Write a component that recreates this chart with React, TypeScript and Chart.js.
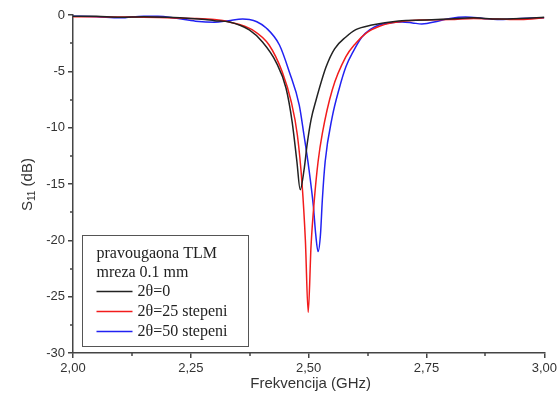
import { useEffect, useRef } from "react";
import { Chart, registerables } from "chart.js";

Chart.register(...registerables);

// Frequency (GHz) and S11 (dB) for each series
const freq0 = [2.0, 2.05, 2.1, 2.15, 2.2, 2.25, 2.28, 2.3, 2.332, 2.374, 2.402, 2.431, 2.452, 2.465, 2.475, 2.482, 2.49, 2.497, 2.505, 2.516, 2.537, 2.555, 2.579, 2.6, 2.634, 2.691, 2.75, 2.8, 2.85, 2.9, 2.95, 3.0];
const s11_0 = [-0.1, -0.12, -0.2, -0.15, -0.2, -0.3, -0.4, -0.5, -0.62, -1.33, -2.4, -4.2, -6.5, -9.5, -13, -15.5, -13.8, -11.4, -9.3, -7.5, -4.6, -3.0, -1.95, -1.3, -0.89, -0.53, -0.45, -0.35, -0.25, -0.35, -0.3, -0.2];

const freq25 = [2.0, 2.05, 2.1, 2.15, 2.2, 2.25, 2.3, 2.332, 2.381, 2.416, 2.444, 2.463, 2.476, 2.486, 2.493, 2.499, 2.505, 2.512, 2.52, 2.529, 2.55, 2.579, 2.6, 2.622, 2.65, 2.677, 2.734, 2.8, 2.85, 2.9, 2.95, 3.0];
const s11_25 = [-0.15, -0.15, -0.18, -0.2, -0.25, -0.3, -0.4, -0.62, -1.33, -2.66, -5.06, -7.7, -10.65, -15, -20, -26.4, -20.5, -16.4, -13, -10.5, -6.65, -3.7, -2.5, -1.6, -1.0, -0.7, -0.44, -0.4, -0.3, -0.35, -0.4, -0.25];

const freq50 = [2.0, 2.05, 2.1, 2.15, 2.18, 2.22, 2.26, 2.3, 2.33, 2.36, 2.374, 2.39, 2.41, 2.438, 2.459, 2.48, 2.49, 2.5, 2.51, 2.515, 2.52, 2.525, 2.529, 2.535, 2.55, 2.565, 2.579, 2.595, 2.613, 2.63, 2.649, 2.67, 2.698, 2.72, 2.74, 2.776, 2.8, 2.833, 2.87, 2.9, 2.95, 3.0];
const s11_50 = [-0.1, -0.15, -0.25, -0.1, -0.1, -0.3, -0.55, -0.65, -0.5, -0.35, -0.4, -0.6, -1.15, -2.66, -5.06, -8, -10.65, -13.5, -17, -19.5, -21, -19.5, -16.4, -13, -9.05, -6.5, -4.6, -3.2, -1.95, -1.3, -0.89, -0.7, -0.62, -0.7, -0.8, -0.53, -0.3, -0.18, -0.3, -0.4, -0.3, -0.25];

const seriesNames = ["2θ=0", "2θ=25 stepeni", "2θ=50 stepeni"];
const seriesColors = ["#222222", "#f21c1c", "#2222f2"];
const legendTitle = ["pravougaona TLM", "mreza 0.1 mm"];
const xTitle = "Frekvencija (GHz)";
const yMin = -30;
const yMax = 0;
const xMin = 2.0;
const xMax = 3.0;
const xMajor = 0.25;
const yMajor = 5;

const toPts = (xs: number[], ys: number[]) => xs.map((x, i) => ({ x, y: ys[i] }));
const isMajor = (v: number, step: number) => Math.abs(v / step - Math.round(v / step)) < 1e-6;

export default function App() {
  const ref = useRef<HTMLCanvasElement | null>(null);

  useEffect(() => {
    document.body.style.margin = "0";
    const canvas = ref.current;
    if (!canvas) return;

    const overlay = {
      id: "overlay",
      afterDraw(chart: any) {
        const ctx = chart.ctx as CanvasRenderingContext2D;
        const area = chart.chartArea;

        // minor ticks (shorter)
        ctx.save();
        ctx.strokeStyle = "#444";
        ctx.lineWidth = 1.5;
        const xs = chart.scales.x;
        const ys = chart.scales.y;
        xs.ticks.forEach((t: any) => {
          if (isMajor(t.value, xMajor)) return;
          const px = Math.round(xs.getPixelForValue(t.value));
          ctx.beginPath();
          ctx.moveTo(px, area.bottom);
          ctx.lineTo(px, area.bottom + 3);
          ctx.stroke();
        });
        ys.ticks.forEach((t: any) => {
          if (isMajor(t.value, yMajor)) return;
          const py = Math.round(ys.getPixelForValue(t.value));
          ctx.beginPath();
          ctx.moveTo(area.left, py);
          ctx.lineTo(area.left - 3, py);
          ctx.stroke();
        });
        ctx.restore();

        // y axis title with subscript
        ctx.save();
        ctx.fillStyle = "#333";
        ctx.translate(28, 211);
        ctx.rotate(-Math.PI / 2);
        ctx.textBaseline = "middle";
        ctx.textAlign = "left";
        ctx.font = '15px "Liberation Sans"';
        ctx.fillText("S", 0, 0);
        let w = ctx.measureText("S").width;
        ctx.font = '10px "Liberation Sans"';
        ctx.fillText("11", w, 4);
        w += ctx.measureText("11").width;
        ctx.font = '15px "Liberation Sans"';
        ctx.fillText(" (dB)", w, 0);
        ctx.restore();

        // x axis title
        ctx.save();
        ctx.fillStyle = "#333";
        ctx.font = '15px "Liberation Sans"';
        ctx.textAlign = "center";
        ctx.textBaseline = "middle";
        ctx.fillText(xTitle, (area.left + area.right) / 2 + 2, 384);
        ctx.restore();

        // legend box
        ctx.save();
        const bx = area.left + 9.5;
        const by = area.bottom - 117.5;
        const bw = 166;
        const bh = 111;
        ctx.fillStyle = "#fff";
        ctx.fillRect(bx, by, bw, bh);
        ctx.strokeStyle = "#555";
        ctx.lineWidth = 1;
        ctx.strokeRect(bx, by, bw, bh);
        ctx.font = '16px "Liberation Serif"';
        ctx.fillStyle = "#222";
        ctx.textBaseline = "middle";
        ctx.textAlign = "left";
        const tx = bx + 14;
        ctx.fillText(legendTitle[0], tx, by + 18);
        ctx.fillText(legendTitle[1], tx, by + 37);
        const rowsY = [by + 56, by + 76, by + 96];
        seriesNames.forEach((name, i) => {
          ctx.strokeStyle = seriesColors[i];
          ctx.lineWidth = 1.5;
          ctx.beginPath();
          ctx.moveTo(tx, rowsY[i]);
          ctx.lineTo(tx + 36, rowsY[i]);
          ctx.stroke();
          ctx.fillStyle = "#222";
          ctx.fillText(name, tx + 41, rowsY[i]);
        });
        ctx.restore();
      },
    };

    const chart = new Chart(canvas, {
      type: "line",
      data: {
        datasets: [
          { label: seriesNames[0], data: toPts(freq0, s11_0), borderColor: seriesColors[0] },
          { label: seriesNames[1], data: toPts(freq25, s11_25), borderColor: seriesColors[1] },
          { label: seriesNames[2], data: toPts(freq50, s11_50), borderColor: seriesColors[2] },
        ].map((d) => ({
          ...d,
          borderWidth: 1.5,
          pointRadius: 0,
          fill: false,
          cubicInterpolationMode: "monotone" as const,
        })),
      },
      options: {
        animation: false,
        responsive: false,
        devicePixelRatio: 1,
        layout: { padding: { top: 15, right: 14, left: 0, bottom: 0 } },
        plugins: { legend: { display: false }, tooltip: { enabled: false } },
        scales: {
          x: {
            type: "linear",
            min: xMin,
            max: xMax,
            afterFit: (s: any) => {
              s.height = 43;
            },
            ticks: {
              stepSize: 0.125,
              autoSkip: false,
              maxRotation: 0,
              padding: 3,
              color: "#333",
              font: { family: "Liberation Sans", size: 13 },
              callback: (v: any) => {
                const n = Number(v);
                return isMajor(n, xMajor) ? n.toFixed(2).replace(".", ",") : "";
              },
            },
            grid: {
              drawOnChartArea: false,
              drawTicks: true,
              tickLength: 5,
              color: "#444",
              lineWidth: 1.5,
              tickColor: (c: any) => (c.tick && isMajor(c.tick.value, xMajor) ? "#444" : "rgba(0,0,0,0)"),
            },
            border: { display: true, color: "#444", width: 1.5 },
          },
          y: {
            type: "linear",
            min: yMin,
            max: yMax,
            afterFit: (s: any) => {
              s.width = 73;
            },
            ticks: {
              stepSize: 2.5,
              autoSkip: false,
              padding: 3,
              color: "#333",
              font: { family: "Liberation Sans", size: 13 },
              callback: (v: any) => {
                const n = Number(v);
                return isMajor(n, yMajor) ? String(n) : "";
              },
            },
            grid: {
              drawOnChartArea: false,
              drawTicks: true,
              tickLength: 5,
              color: "#444",
              lineWidth: 1.5,
              tickColor: (c: any) => (c.tick && isMajor(c.tick.value, yMajor) ? "#444" : "rgba(0,0,0,0)"),
            },
            border: { display: true, color: "#444", width: 1.5 },
          },
        },
      },
      plugins: [overlay],
    });

    return () => chart.destroy();
  }, []);

  return <canvas ref={ref} width={560} height={396} style={{ display: "block", width: 560, height: 396 }} />;
}
